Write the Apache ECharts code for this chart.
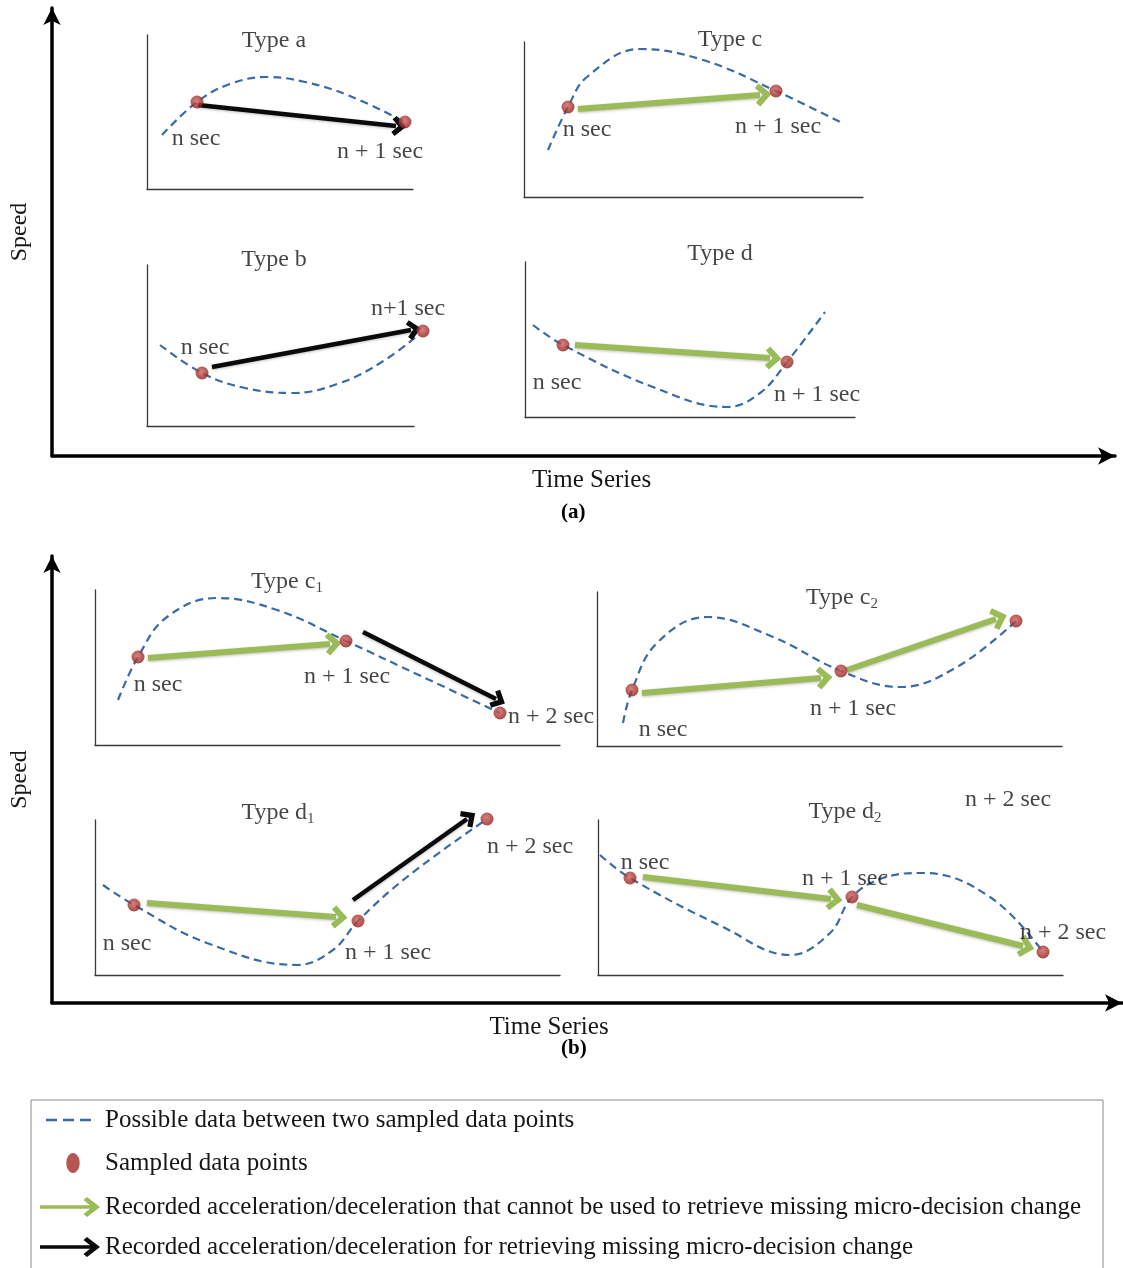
<!DOCTYPE html>
<html><head><meta charset="utf-8">
<script src="https://cdn.jsdelivr.net/npm/echarts@6/dist/echarts.min.js"></script>
<style>html,body{margin:0;padding:0;background:#fff}#c{width:1123px;height:1268px}</style>
</head><body><div id="c"></div>
<script>
// ---------------- DATA (panel-local units: x = time, y = speed) ----------------
// Type a
const curve_a   = [[15,54],[50,87],[83,105],[120,112],[158,107],[203,93],[258,67]];
const samples_a = [[50,87],[258,67]];
const green_a   = [];
const black_a   = [[[51,84],[249,63]]];
const labels_a  = [['Type a',127,148],['n sec',49,50],['n + 1 sec',233,37]];
// Type c
const curve_c   = [[24,47],[44,90],[63,120],[116,148],[179,137],[252,106],[316,75]];
const samples_c = [[44,90],[252,106]];
const green_c   = [[[54,88],[236,102]]];
const black_c   = [];
const labels_c  = [['Type c',206,157],['n sec',63,67],['n + 1 sec',254,70]];
// Type b
const curve_b   = [[13,81],[55,53],[98,38],[145,33],[193,43],[238,66],[276,95]];
const samples_b = [[55,53],[276,95]];
const green_b   = [];
const black_b   = [[[65,59],[264,96]]];
const labels_b  = [['Type b',127,166],['n sec',58,78],['n+1 sec',261,117]];
// Type d
const curve_d   = [[8,92],[38,72],[128,30],[202,10],[235,24],[262,55],[300,105]];
const samples_d = [[38,72],[262,55]];
const green_d   = [[[50,72],[245,59]]];
const black_d   = [];
const labels_d  = [['Type d',195,163],['n sec',32,34],['n + 1 sec',292,22]];
// Type c1
const curve_c1   = [[23,45],[43,88],[72,128],[122,147],[182,135],[251,104],[328,68],[405,32]];
const samples_c1 = [[43,88],[251,104],[405,32]];
const green_c1   = [[[53,87],[235,101]]];
const black_c1   = [[[268,113],[401,46]]];
const labels_c1  = [['Type c{s|1}',192,163],['n sec',63,60],['n + 1 sec',252,68],['n + 2 sec',456,28]];
// Type c2
const curve_c2   = [[26,23],[35,56],[60,103],[110,129],[176,109],[244,75],[303,59],[360,79],[419,125]];
const samples_c2 = [[35,56],[244,75],[419,125]];
const green_c2   = [[[45,53],[224,68]],[[250,76],[399,127]]];
const black_c2   = [];
const labels_c2  = [['Type c{s|2}',245,148],['n sec',66,16],['n + 1 sec',256,37]];
// Type d1
const curve_d1   = [[8,90],[39,70],[112,32],[202,10],[238,25],[263,54],[312,98],[392,156]];
const samples_d1 = [[39,70],[263,54],[392,156]];
const green_d1   = [[[52,72],[241,58]]];
const black_d1   = [[[258,75],[372,156]]];
const labels_d1  = [['Type d{s|1}',183,162],['n sec',32,31],['n + 1 sec',293,22],['n + 2 sec',435,128]];
// Type d2
const curve_d2   = [[2,120],[32,97],[125,48],[192,20],[232,42],[254,78],[285,97],[325,102],[392,78],[445,23]];
const samples_d2 = [[32,97],[254,78],[445,23]];
const green_d2   = [[[45,98],[233,76]],[[259,70],[425,29]]];
const black_d2   = [];
const labels_d2  = [['Type d{s|2}',247,163],['n + 2 sec',410,175],['n sec',47,112],['n + 1 sec',247,96],['n + 2 sec',465,42]];

const axisNames  = ['Time Series','Speed'];
const panelCaps  = ['(a)','(b)'];
const legendNames = [
  'Possible data between two sampled data points',
  'Sampled data points',
  'Recorded acceleration/deceleration that cannot be used to retrieve missing micro-decision change',
  'Recorded acceleration/deceleration for retrieving missing micro-decision change'
];

// ---------------- LAYOUT / STYLE ----------------
const FONT = '"Liberation Serif","Times New Roman",serif';
const TXT = '#161616';
const panels = [
  {c:curve_a, s:samples_a, g:green_a, k:black_a, l:labels_a, box:[147,189,266,154]},
  {c:curve_c, s:samples_c, g:green_c, k:black_c, l:labels_c, box:[524,197,339,155]},
  {c:curve_b, s:samples_b, g:green_b, k:black_b, l:labels_b, box:[147,426,267,161]},
  {c:curve_d, s:samples_d, g:green_d, k:black_d, l:labels_d, box:[525,417,330,155]},
  {c:curve_c1, s:samples_c1, g:green_c1, k:black_c1, l:labels_c1, box:[95,745,465,155]},
  {c:curve_c2, s:samples_c2, g:green_c2, k:black_c2, l:labels_c2, box:[597,746,465,154]},
  {c:curve_d1, s:samples_d1, g:green_d1, k:black_d1, l:labels_d1, box:[95,975,465,155]},
  {c:curve_d2, s:samples_d2, g:green_d2, k:black_d2, l:labels_d2, box:[598,975,465,155]}
];
// chevron head pointing up, padded to a square box so that it is not stretched
const CHEV = 'path://M11 0 L22 11.5 L18 15.5 L11 8.5 L4 15.5 L0 11.5 Z M11 22 L11.01 22 L11 22.01 Z';
const ARROW_ICON = 'path://M0 8.2 H50 L43.5 3 L47 0 L60 10 L47 20 L43.5 17 L50 11.8 H0 Z';
const ELLIPSE = 'path://M6 0 C9.3 0 12 4 12 9 C12 14 9.3 18 6 18 C2.7 18 0 14 0 9 C0 4 2.7 0 6 0 Z';
const DASH_ICON = 'path://M0 0 H11 V2.4 H0 Z M17 0 H28 V2.4 H17 Z M34 0 H45 V2.4 H34 Z M54 1.2 L54.01 1.2 L54 1.21 Z';
const DOT_COLOR = {type:'radial', x:0.45, y:0.4, r:0.6, colorStops:[{offset:0,color:'#D0605A'},{offset:1,color:'#8E1F1C'}]};

const grid = [], xAxis = [], yAxis = [], series = [];
// big outer axes
const big = [[52,8,1063,448],[50,556,1072,447]];
big.forEach((b,i)=>{
  grid.push({left:b[0], top:b[1], width:b[2], height:b[3]});
  const line = {show:true, onZero:false, symbol:['none','arrow'], symbolSize:[13,17], lineStyle:{color:'#000', width:3.5}};
  xAxis.push({gridIndex:i, type:'value', min:0, max:1, axisLine:line, axisTick:{show:false}, axisLabel:{show:false}, splitLine:{show:false},
    name:axisNames[0], nameLocation:'middle', nameGap:12,
    nameTextStyle:{fontFamily:FONT, fontSize:25, color:TXT, padding: i===1 ? [0,76,0,0] : [0,0,0,16]}});
  yAxis.push({gridIndex:i, type:'value', min:0, max:1, axisLine:line, axisTick:{show:false}, axisLabel:{show:false}, splitLine:{show:false},
    name:axisNames[1], nameLocation:'middle', nameGap:20, nameRotate:90,
    nameTextStyle:{fontFamily:FONT, fontSize:24, color:TXT}});
});

panels.forEach((p,j)=>{
  const gi = j + 2;
  const [left,bottom,w,h] = p.box;
  grid.push({left:left, top:bottom-h, width:w, height:h});
  const fl = {show:true, onZero:false, lineStyle:{color:'#3a3a3a', width:1.3}};
  xAxis.push({gridIndex:gi, type:'value', min:0, max:w, axisLine:fl, axisTick:{show:false}, axisLabel:{show:false}, splitLine:{show:false}});
  yAxis.push({gridIndex:gi, type:'value', min:0, max:h, axisLine:fl, axisTick:{show:false}, axisLabel:{show:false}, splitLine:{show:false}});
  series.push({type:'line', name:legendNames[0], xAxisIndex:gi, yAxisIndex:gi, data:p.c, smooth:0.4, symbol:'none', showSymbol:false,
    clip:false, silent:true, z:2, lineStyle:{color:'#3A6AA6', width:2.2, type:[8,5]}});
  series.push({type:'lines', name:legendNames[2], coordinateSystem:'cartesian2d', xAxisIndex:gi, yAxisIndex:gi,
    data:p.g.map(c=>({coords:c})), symbol:['none',CHEV], symbolSize:[0,23], silent:true, z:3, clip:false,
    lineStyle:{color:'#9BBB59', width:6, opacity:1, curveness:0, shadowBlur:3, shadowColor:'rgba(0,0,0,0.25)', shadowOffsetY:1}});
  series.push({type:'lines', name:legendNames[3], coordinateSystem:'cartesian2d', xAxisIndex:gi, yAxisIndex:gi,
    data:p.k.map(c=>({coords:c})), symbol:['none',CHEV], symbolSize:[0,20], silent:true, z:3, clip:false,
    lineStyle:{color:'#0a0a0a', width:4.5, opacity:1, curveness:0, shadowBlur:3, shadowColor:'rgba(0,0,0,0.25)', shadowOffsetY:1}});
  series.push({type:'scatter', name:legendNames[1], xAxisIndex:gi, yAxisIndex:gi, data:p.s, symbol:'circle', symbolSize:13,
    clip:false, silent:true, z:4, itemStyle:{color:DOT_COLOR}});
  series.push({type:'scatter', name:'labels', xAxisIndex:gi, yAxisIndex:gi, clip:false, silent:true, z:5,
    data:p.l.map(t=>({name:t[0], value:[t[1],t[2]]})), symbol:'circle', symbolSize:1, itemStyle:{color:'rgba(0,0,0,0)'},
    label:{show:true, position:'inside', formatter:'{b}', fontFamily:FONT, fontSize:24, lineHeight:27, color:TXT,
      rich:{s:{fontFamily:FONT, fontSize:15, lineHeight:15, verticalAlign:'bottom', color:TXT}}}});
});

const legendText = {fontFamily:FONT, fontSize:25, lineHeight:26, color:TXT};
const option = {
  animation:false,
  backgroundColor:'#fff',
  title:[
    {text:panelCaps[0], left:556, top:497, textStyle:{fontFamily:FONT, fontSize:21, fontWeight:'bold', color:'#000'}},
    {text:panelCaps[1], left:556, top:1033, textStyle:{fontFamily:FONT, fontSize:21, fontWeight:'bold', color:'#000'}}
  ],
  graphic:[{type:'rect', shape:{x:31, y:1100, width:1072, height:180}, style:{fill:'none', stroke:'#8a8a8a', lineWidth:1}, silent:true}],
  legend:[
    {orient:'vertical', left:46, top:1107, itemWidth:54, itemHeight:20, itemGap:17, padding:0, selectedMode:false, textStyle:legendText,
      data:[{name:legendNames[0], icon:DASH_ICON, itemStyle:{color:'#3A6AA6', borderWidth:0}},
            {name:legendNames[1], icon:ELLIPSE, itemStyle:{color:'#A52A26', borderWidth:0}}]},
    {orient:'vertical', left:40, top:1194, itemWidth:60, itemHeight:20, itemGap:14, padding:0, selectedMode:false, textStyle:legendText,
      data:[{name:legendNames[2], icon:ARROW_ICON, itemStyle:{color:'#9BBB59', borderWidth:0}},
            {name:legendNames[3], icon:ARROW_ICON, itemStyle:{color:'#0a0a0a', borderWidth:0}}]}
  ],
  grid:grid, xAxis:xAxis, yAxis:yAxis, series:series
};
const chart = echarts.init(document.getElementById('c'), null, {renderer:'canvas'});
chart.setOption(option);
</script>
</body></html>
